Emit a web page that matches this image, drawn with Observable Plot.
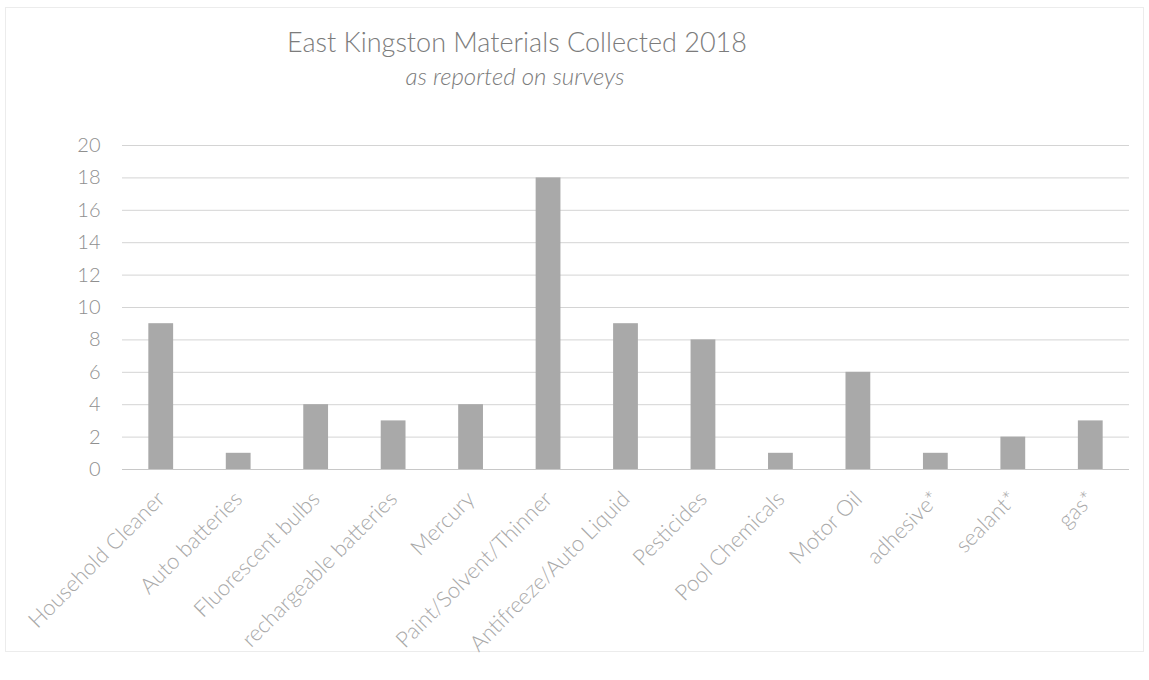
<!DOCTYPE html>
<html>
<head>
<meta charset="utf-8">
<script src="https://cdn.jsdelivr.net/npm/d3@7"></script>
<script src="https://cdn.jsdelivr.net/npm/@observablehq/plot@0.6"></script>
<style>
  body { margin: 0; background: #fff; font-family: Lato, "Open Sans", sans-serif; }
  #wrap { position: relative; width: 1149px; height: 680px; overflow: hidden; }
  #frame { position: absolute; left: 5px; top: 7px; width: 1139px; height: 645px; border: 1px solid #ececec; box-sizing: border-box; }
  #title { position: absolute; left: 0; width: 1034px; top: 26px; text-align: center; font-size: 27px; color: #7c7c7c; line-height: 32px; font-weight: 300; }
  #subtitle { position: absolute; left: 0; width: 1030px; top: 62px; text-align: center; font-size: 24px; font-style: italic; color: #7c7c7c; line-height: 28px; font-weight: 300; }
  #chart { position: absolute; left: 0; top: 120px; }
</style>
</head>
<body>
<div id="wrap">
  <div id="frame"></div>
  <div id="title">East Kingston Materials Collected 2018</div>
  <div id="subtitle">as reported on surveys</div>
  <div id="chart"></div>
</div>
<script>
const categories = [
  "Household Cleaner", "Auto batteries", "Fluorescent bulbs", "rechargeable batteries",
  "Mercury", "Paint/Solvent/Thinner", "Antifreeze/Auto Liquid", "Pesticides",
  "Pool Chemicals", "Motor Oil", "adhesive*", "sealant*", "gas*"
];
const counts = [9, 1, 4, 3, 4, 18, 9, 8, 1, 6, 1, 2, 3];
const yTicks = [0, 2, 4, 6, 8, 10, 12, 14, 16, 18, 20];

const data = categories.map((c, i) => ({category: c, count: counts[i]}));

const chart = Plot.plot({
  width: 1149,
  height: 560,
  marginTop: 25,
  marginBottom: 211,
  marginLeft: 122,
  marginRight: 20,
  style: {fontFamily: "Lato, 'Open Sans', sans-serif", background: "transparent", fontWeight: 300},
  x: {domain: categories, paddingInner: 0.68, paddingOuter: 0.34, round: false, label: null},
  y: {domain: [0, 20], label: null},
  marks: [
    Plot.gridY(yTicks, {stroke: "#d4d4d4", strokeOpacity: 1}),
    Plot.barY(data, {x: "category", y: "count", fill: "#a9a9a9"}),
    Plot.ruleY([0], {stroke: "#c8c8c8"}),
    Plot.axisY(yTicks, {tickSize: 0, tickPadding: 22, fontSize: 20, fill: "#8f8f8f", label: null}),
    Plot.axisX({tickSize: 0, tickPadding: 26, tickRotate: -45, fontSize: 22, fill: "#a8a8a8", label: null})
  ]
});
document.getElementById("chart").appendChild(chart);
</script>
</body>
</html>
